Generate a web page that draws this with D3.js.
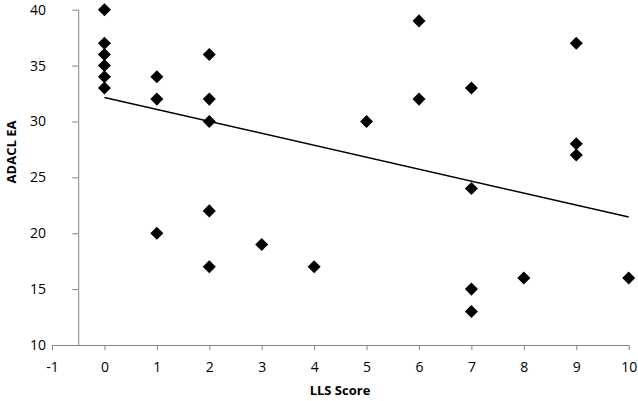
<!DOCTYPE html>
<html><head><meta charset="utf-8">
<script src="https://cdn.jsdelivr.net/npm/d3@7"></script>
<style>
body{margin:0;background:#fff;}
text{font-family:"Open Sans",sans-serif;}
</style></head>
<body><svg id="c" width="638" height="401"></svg>
<script>
const lls  = [0,0,0,0,0,0, 1,1,1, 2,2,2,2,2, 3, 4, 5, 6,6, 7,7,7,7, 8, 9,9,9, 10];
const adacl= [40,37,36,35,34,33, 34,32,20, 36,32,30,22,17, 19, 17, 30, 39,32, 33,24,15,13, 16, 37,28,27, 16];
const trendX = [0, 10];
const trendY = [32.15, 21.45];
const xTicks = [-1,0,1,2,3,4,5,6,7,8,9,10];
const yTicks = [10,15,20,25,30,35,40];

const svg = d3.select("#c");
const x = d3.scaleLinear().domain([-1,10]).range([52,628.7]);
const y = d3.scaleLinear().domain([10,40]).range([345,9.7]);
const axisColor = "#868686";

// x axis
const gx = svg.append("g").attr("transform",`translate(0,${y(10)})`)
  .call(d3.axisBottom(x).tickValues(xTicks).tickSize(5).tickPadding(12).tickFormat(d3.format("d")));
gx.select(".domain").attr("stroke",axisColor).attr("d",`M${x(-1)},0.5H${x(10)}`);
gx.selectAll(".tick line").attr("stroke",axisColor);
gx.selectAll(".tick text").attr("font-size",14).attr("fill","#000").attr("font-family","'Open Sans',sans-serif")
  .text(d=>d<0?"-"+Math.abs(d):d);

// y axis at x=-0.5
const gy = svg.append("g").attr("transform",`translate(${x(-0.5)},0)`)
  .call(d3.axisLeft(y).tickValues(yTicks).tickSize(6).tickFormat(d3.format("d")));
gy.select(".domain").attr("stroke",axisColor).attr("d",`M0.5,${y(40)}V${y(10)}`);
gy.selectAll(".tick line").attr("stroke",axisColor);
gy.selectAll(".tick text").attr("font-size",14).attr("fill","#000").attr("font-family","'Open Sans',sans-serif")
  .attr("x", 46 - x(-0.5));

// trend line
svg.append("path")
  .attr("d", d3.line().x(d=>x(d[0])).y(d=>y(d[1]))(trendX.map((v,i)=>[v,trendY[i]])))
  .attr("stroke","#000").attr("stroke-width",1.5).attr("fill","none");

// points
const sym = d3.symbol().type(d3.symbolSquare).size(85);
svg.append("g").selectAll("path").data(lls.map((v,i)=>[v,adacl[i]])).join("path")
  .attr("d", sym)
  .attr("transform", d=>`translate(${x(d[0])},${y(d[1])}) rotate(45)`)
  .attr("fill","#000");

// titles
svg.append("text").attr("x",340).attr("y",395).attr("text-anchor","middle")
  .attr("font-size",13).attr("font-weight","bold").text("LLS Score");
svg.append("text").attr("transform","translate(16,152) rotate(-90)").attr("text-anchor","middle")
  .attr("font-size",13).attr("font-weight","bold").text("ADACL EA");
</script></body></html>
